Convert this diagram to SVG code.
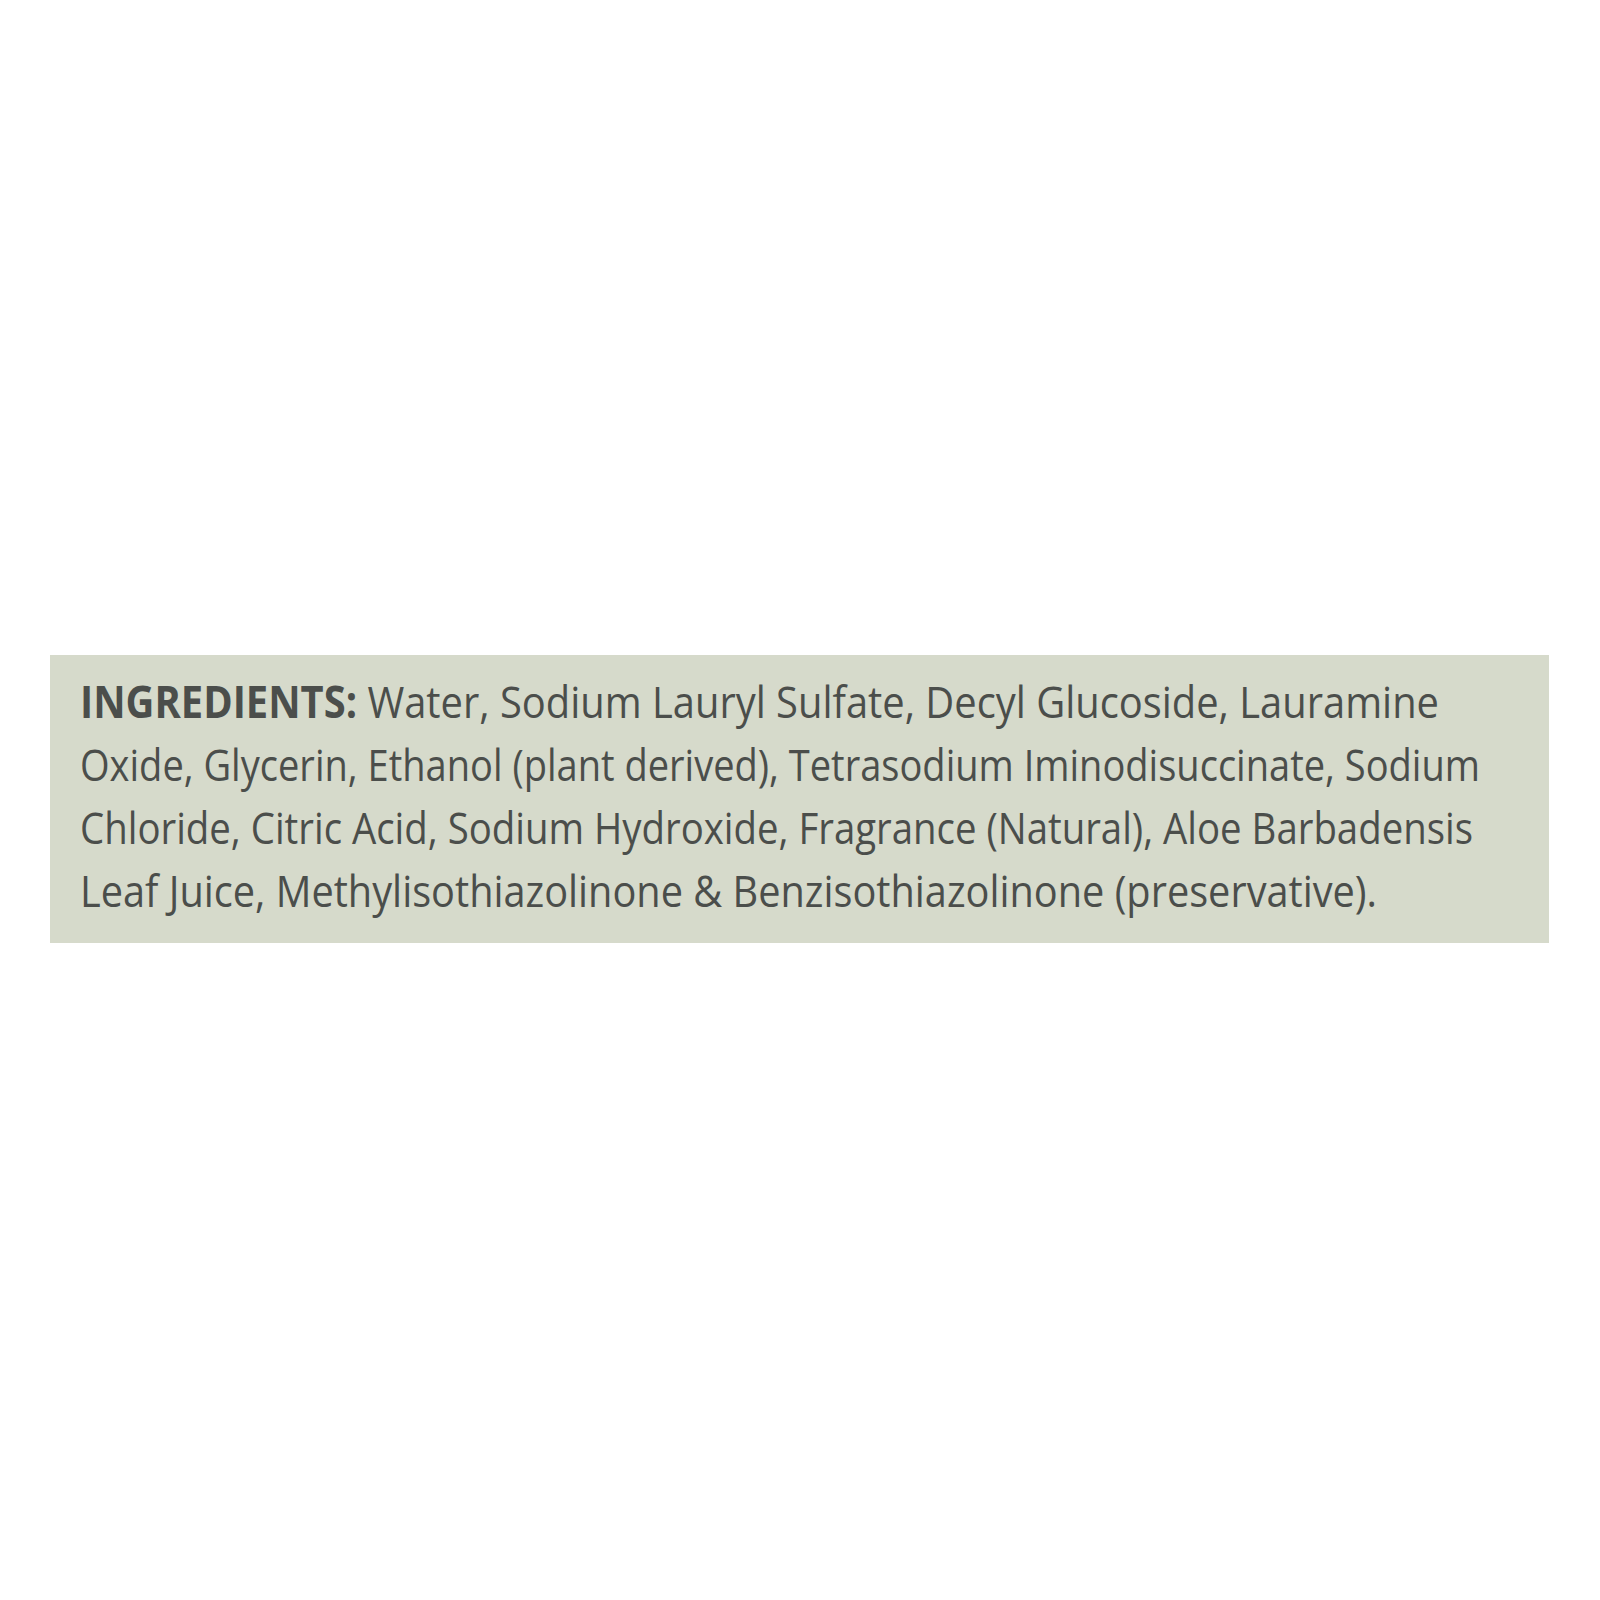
<svg xmlns="http://www.w3.org/2000/svg" width="1600" height="1600" viewBox="0 0 1600 1600">
<style>
.t{font-family:"Open Sans","Liberation Sans",sans-serif;font-size:44px;fill:#4b4e4b}
.b{font-weight:bold}
</style>
<rect width="1600" height="1600" fill="#ffffff"/>
<g id="label">
<rect x="50" y="655" width="1499" height="288" fill="#d6dacb"/>
<text class="t" x="80" y="718" textLength="1359" lengthAdjust="spacingAndGlyphs"><tspan class="b">INGREDIENTS:</tspan> Water, Sodium Lauryl Sulfate, Decyl Glucoside, Lauramine</text>
<text class="t" x="80" y="781" textLength="1400" lengthAdjust="spacingAndGlyphs">Oxide, Glycerin, Ethanol (plant derived), Tetrasodium Iminodisuccinate, Sodium</text>
<text class="t" x="80" y="844" textLength="1393" lengthAdjust="spacingAndGlyphs">Chloride, Citric Acid, Sodium Hydroxide, Fragrance (Natural), Aloe Barbadensis</text>
<text class="t" x="80" y="907" textLength="1297" lengthAdjust="spacingAndGlyphs">Leaf Juice, Methylisothiazolinone &amp; Benzisothiazolinone (preservative).</text>
</g>
</svg>
